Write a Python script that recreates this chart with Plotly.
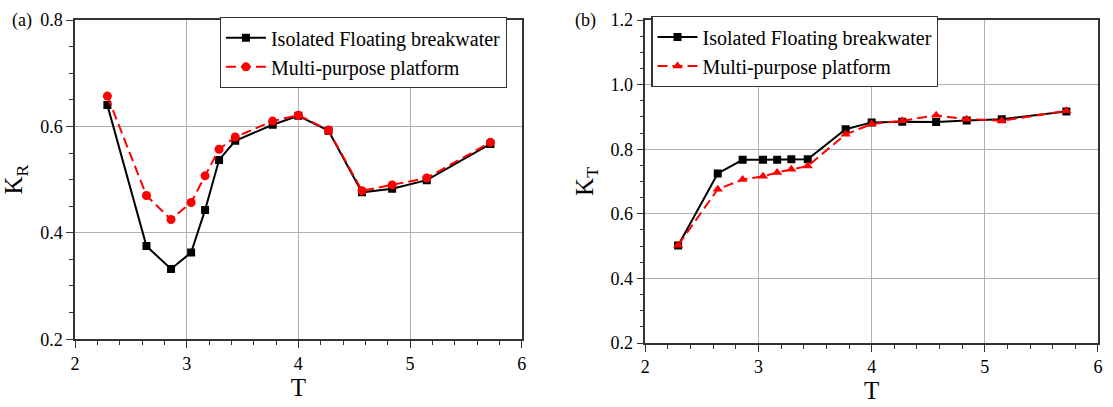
import plotly.graph_objects as go

T = [2.29, 2.64, 2.86, 3.04, 3.165, 3.29, 3.435, 3.77, 4.0, 4.27, 4.57, 4.84, 5.15, 5.72]

KR_isolated = [0.640, 0.375, 0.332, 0.363, 0.443, 0.537, 0.573, 0.603, 0.620, 0.592, 0.476, 0.483, 0.499, 0.567]
KR_platform = [0.657, 0.470, 0.425, 0.457, 0.507, 0.557, 0.580, 0.610, 0.621, 0.593, 0.479, 0.490, 0.503, 0.570]

KT_isolated = [0.502, 0.725, 0.767, 0.767, 0.767, 0.769, 0.769, 0.862, 0.883, 0.885, 0.884, 0.889, 0.893, 0.917]
KT_platform = [0.503, 0.676, 0.706, 0.716, 0.728, 0.738, 0.748, 0.846, 0.878, 0.888, 0.905, 0.893, 0.888, 0.919]

NAME_A = "Isolated Floating breakwater"
NAME_B = "Multi-purpose platform"

FONT = "Liberation Serif"
BLACK = "#000000"
RED = "#ff0000"

fig = go.Figure()

fig.add_trace(go.Scatter(x=T, y=KR_isolated, name=NAME_A, mode="lines+markers",
                         line=dict(color=BLACK, width=2),
                         marker=dict(symbol="square", size=8, color=BLACK),
                         xaxis="x", yaxis="y", legend="legend"))
fig.add_trace(go.Scatter(x=T, y=KR_platform, name=NAME_B, mode="lines+markers",
                         line=dict(color=RED, width=2, dash="10px,5px"),
                         marker=dict(symbol="circle", size=9, color=RED),
                         xaxis="x", yaxis="y", legend="legend"))
fig.add_trace(go.Scatter(x=T, y=KT_isolated, name=NAME_A, mode="lines+markers",
                         line=dict(color=BLACK, width=2),
                         marker=dict(symbol="square", size=8, color=BLACK),
                         xaxis="x2", yaxis="y2", legend="legend2"))
fig.add_trace(go.Scatter(x=T, y=KT_platform, name=NAME_B, mode="lines+markers",
                         line=dict(color=RED, width=2, dash="10px,5px"),
                         marker=dict(symbol="triangle-up", size=9, color=RED),
                         xaxis="x2", yaxis="y2", legend="legend2"))

axis_common = dict(
    showline=True, linecolor="#333333", linewidth=1.5, mirror=True,
    showgrid=True, gridcolor="#b0b0b0", gridwidth=1,
    ticks="outside", ticklen=7, tickcolor="#333333", tickwidth=1.2,
    tickfont=dict(family=FONT, size=18, color=BLACK),
    zeroline=False,
    minor=dict(ticks="outside", ticklen=4, tickcolor="#333333", showgrid=False),
)

W, H = 1113, 407
ml, mr, mt, mb = 75, 12, 10, 58
pw = W - ml - mr
ph = H - mt - mb

def xd(a, b):
    return [(a - ml) / pw, (b - ml) / pw]

def yd(top, bottom):
    return [(H - mb - bottom) / ph, (H - mb - top) / ph]

legend_common = dict(bgcolor="white", bordercolor="#333333", borderwidth=1.2,
                     font=dict(family=FONT, size=20, color=BLACK),
                     tracegroupgap=0, itemwidth=40, yanchor="top")

fig.update_layout(
    width=W, height=H,
    margin=dict(l=ml, r=mr, t=mt, b=mb),
    paper_bgcolor="white", plot_bgcolor="white",
    font=dict(family=FONT, color=BLACK),
    xaxis=dict(axis_common, domain=xd(75, 523), range=[2, 6], dtick=1,
               anchor="y",
               title=dict(text="T", font=dict(family=FONT, size=25), standoff=2)),
    yaxis=dict(axis_common, domain=yd(10, 345), range=[0.2, 0.8], dtick=0.2,
               tickformat=".1f", anchor="x",
               title=dict(text="K<sub>R</sub>", font=dict(family=FONT, size=25), standoff=10)),
    xaxis2=dict(axis_common, domain=xd(647, 1101), range=[2, 6], dtick=1,
                anchor="y2",
                title=dict(text="T", font=dict(family=FONT, size=25), standoff=2)),
    yaxis2=dict(axis_common, domain=yd(10, 349), range=[0.2, 1.2], dtick=0.2,
                tickformat=".1f", anchor="x2",
                title=dict(text="K<sub>T</sub>", font=dict(family=FONT, size=25), standoff=10)),
    legend=dict(legend_common, x=(508 - ml) / pw, xanchor="right", y=(H - mb - 7) / ph),
    legend2=dict(legend_common, x=(653 - ml) / pw, xanchor="left", y=(H - mb - 6) / ph),
    showlegend=True,
    annotations=[
        dict(text="(a)", x=(22 - ml) / pw, y=(H - mb - 10) / ph, xref="paper", yref="paper",
             showarrow=False, xanchor="center", yanchor="middle",
             font=dict(family=FONT, size=18, color=BLACK)),
        dict(text="(b)", x=(587 - ml) / pw, y=(H - mb - 10) / ph, xref="paper", yref="paper",
             showarrow=False, xanchor="center", yanchor="middle",
             font=dict(family=FONT, size=18, color=BLACK)),
    ],
)

fig.write_html("out.html")
